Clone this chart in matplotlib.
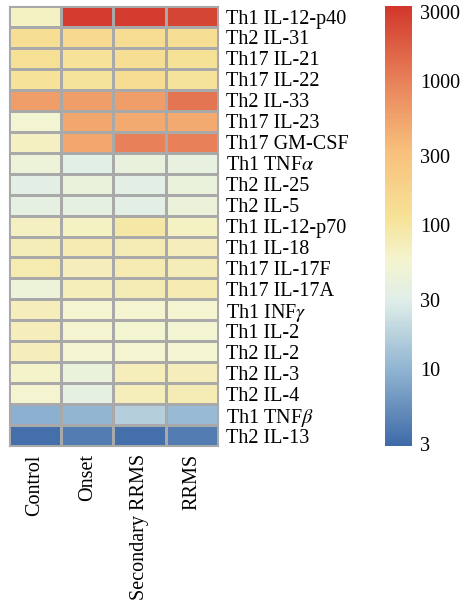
import matplotlib
matplotlib.use("Agg")
import matplotlib.pyplot as plt
import numpy as np
from matplotlib.colors import LinearSegmentedColormap, LogNorm

plt.rcParams['font.family'] = ['Liberation Serif', 'DejaVu Serif']
plt.rcParams['mathtext.fontset'] = 'stix'

groups = ["Control", "Onset", "Secondary RRMS", "RRMS"]
cytokines = ["Th1 IL-12-p40", "Th2 IL-31", "Th17 IL-21", "Th17 IL-22", "Th2 IL-33",
             "Th17 IL-23", "Th17 GM-CSF", r"Th1 TNF$\alpha$", "Th2 IL-25", "Th2 IL-5",
             "Th1 IL-12-p70", "Th1 IL-18", "Th17 IL-17F", "Th17 IL-17A", r"Th1 INF$\gamma$",
             "Th1 IL-2", "Th2 IL-2", "Th2 IL-3", "Th2 IL-4", r"Th1 TNF$\beta$", "Th2 IL-13"]

control = [65, 125, 120, 112, 600, 52, 68, 45, 33, 35, 68, 75, 85, 45, 72, 72, 72, 60, 56, 9, 3.2]
onset = [3000, 150, 112, 108, 600, 500, 500, 32, 42, 35, 66, 80, 72, 74, 56, 56, 56, 42, 36, 10, 4]
secondary = [3000, 132, 125, 130, 600, 480, 1000, 40, 33, 33, 95, 78, 80, 78, 56, 54, 56, 74, 74, 16, 3.2]
rrms = [2600, 128, 115, 108, 1200, 480, 1000, 38, 42, 44, 66, 72, 76, 80, 56, 52, 52, 72, 78, 11, 4]

data = np.array([control, onset, secondary, rrms]).T

cmap = LinearSegmentedColormap.from_list("heat", [
    (0.0, "#3e6aa8"),
    (0.17, "#8fb3d1"),
    (0.33, "#e0eee9"),
    (0.42, "#f4f5d0"),
    (0.52, "#f6e297"),
    (0.67, "#f8c07c"),
    (0.83, "#e8825a"),
    (1.0, "#d1372b"),
])
norm = LogNorm(vmin=2.9, vmax=3300)

fig = plt.figure(figsize=(4.64, 6.06), dpi=100)
ax = fig.add_axes([0.019, 0.264, 0.451, 0.726])
cax = fig.add_axes([0.830, 0.264, 0.058, 0.726])

mesh = ax.pcolormesh(data, cmap=cmap, norm=norm, edgecolors="#a9a9a9", linewidth=0.8)
ax.set_xlim(0, len(groups))
ax.set_ylim(len(cytokines), 0)
ax.set_xticks(np.arange(len(groups)) + 0.5)
ax.set_xticklabels(groups, rotation=90, fontsize=14.5)
ax.set_yticks(np.arange(len(cytokines)) + 0.5)
ax.set_yticklabels(cytokines, fontsize=14.5)
ax.yaxis.tick_right()
ax.tick_params(length=0, pad=6)
for s in ax.spines.values():
    s.set_color("#a9a9a9")

cb = fig.colorbar(mesh, cax=cax)
cb.set_ticks([3, 10, 30, 100, 300, 1000, 3000])
cb.set_ticklabels(["3", "10", "30", "100", "300", "1000", "3000"])
cb.ax.minorticks_off()
cb.ax.tick_params(length=0, labelsize=14.5, pad=6)
cb.outline.set_visible(False)

fig.savefig("out.png", dpi=100)
